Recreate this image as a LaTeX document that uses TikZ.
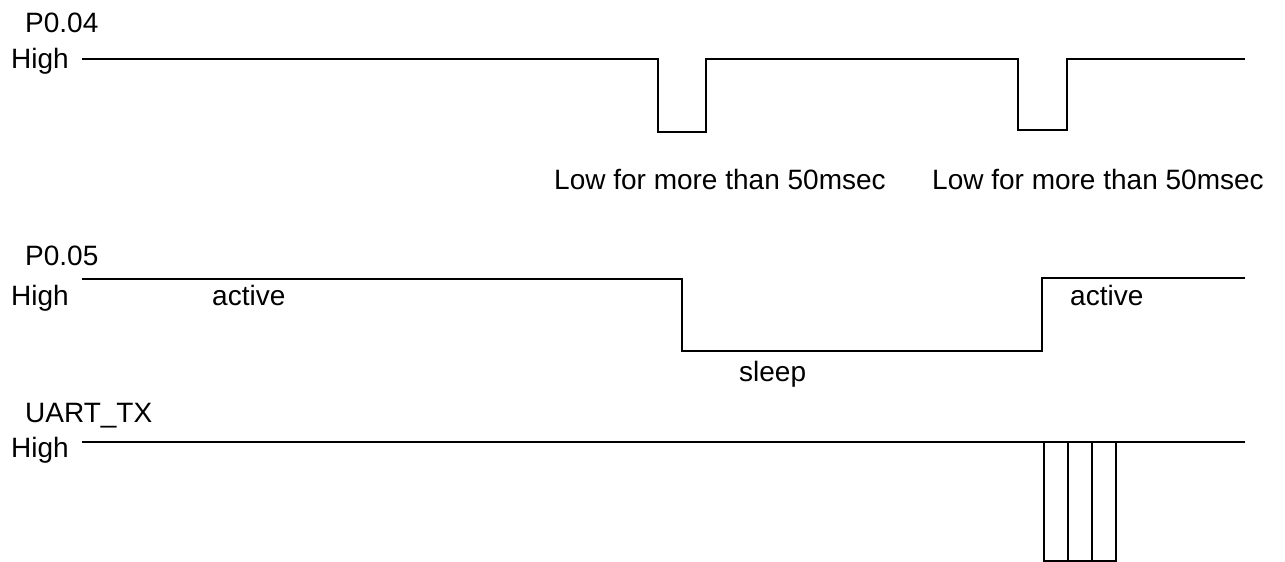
\documentclass[tikz,border=0pt]{standalone}
\usepackage{fontspec}
\setmainfont{Liberation Sans}
\usetikzlibrary{positioning}
\tikzstyle{txt} = [anchor = base west, inner sep = 0,
  font = \fontsize{28}{34}\selectfont]
\tikzstyle{wire} = [line width = 2, draw = black]
\tikzstyle{bit} = [line width = 1.6, draw = black]

\begin{document}
\begin{tikzpicture}[x = 1pt, y = -1pt]
      \useasboundingbox (0, 0) rectangle (1285, 562);
      % P0.04
      \node [txt] (name-0) at (25, 32) {P0.04};
      \node [txt] (high-0) at (11, 68) {High};
      \draw [wire] (82, 59) -- (658, 59) -- (658, 132) -- (706, 132) --
      (706, 59) -- (1018, 59) -- (1018, 130) -- (1067, 130) -- (1067, 59) --
      (1245, 59);
      \node [txt] (low-0-a) at (554, 189) {Low for more than 50msec};
      \node [txt] (low-0-b) at (932, 189) {Low for more than 50msec};

      % P0.05
      \node [txt] (name-1) at (25, 265) {P0.05};
      \node [txt] (high-1) at (11, 305) {High};
      \draw [wire] (82, 279) -- (682, 279) -- (682, 351) -- (1042, 351) --
      (1042, 278) -- (1245, 278);
      \node [txt] (state-1-a) at (212, 305) {active};
      \node [txt] (state-1-b) at (739, 381) {sleep};
      \node [txt] (state-1-c) at (1070, 305) {active};

      % UART_TX
      \node [txt] (name-2) at (25, 422) {UART\_TX};
      \node [txt] (high-2) at (11, 457) {High};
      \draw [wire] (82, 442) -- (1245, 442);
      \draw [bit] (1044, 442) rectangle (1116, 561);
      \draw [bit] (1068, 442) -- (1068, 561);
      \draw [bit] (1092, 442) -- (1092, 561);
    \end{tikzpicture}
\end{document}
